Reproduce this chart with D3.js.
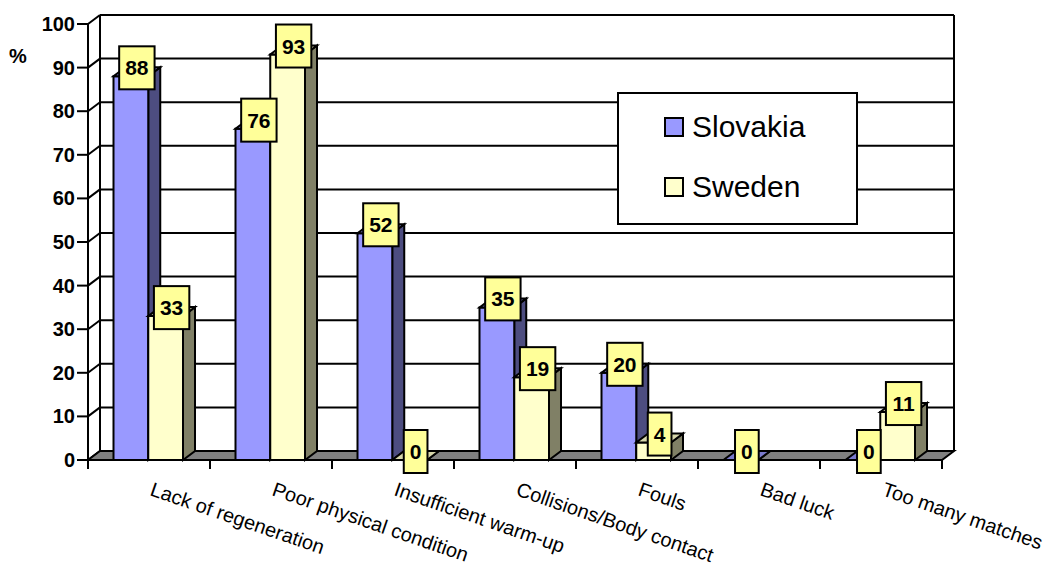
<!DOCTYPE html>
<html>
<head>
<meta charset="utf-8">
<script src="https://cdn.jsdelivr.net/npm/d3@7"></script>
<style>
  html, body { margin: 0; padding: 0; background: #ffffff; }
  svg { display: block; font-family: "Liberation Sans", Arial, sans-serif; }
</style>
</head>
<body>
<svg id="chart" width="1054" height="568"></svg>
<script>
// Injury causes reported by players, per country (%)
const categories = [
  "Lack of regeneration",
  "Poor physical condition",
  "Insufficient warm-up",
  "Collisions/Body contact",
  "Fouls",
  "Bad luck",
  "Too many matches"
];
const seriesNames = ["Slovakia", "Sweden"];
const slovakia = [88, 76, 52, 35, 20, 0, 0];
const sweden   = [33, 93, 0, 19, 4, null, 11];
const yTicks   = [0, 10, 20, 30, 40, 50, 60, 70, 80, 90, 100];

// colours: front, side, top for each series
const palette = {
  Slovakia: { front: "#9999ff", side: "#4d4d80", top: "#7a7acc" },
  Sweden:   { front: "#ffffcc", side: "#808066", top: "#d6d6ab" }
};

const svg = d3.select("#chart");
const DX = 12, DY = -9;          // depth offset of the 3D box
const left = 88, right = 942;    // front edge of the floor

const x0 = d3.scaleBand().domain(categories).range([left, right]);
const x1 = d3.scaleBand().domain(seriesNames).range([25.5, 95]);
const y  = d3.scaleLinear().domain([0, 100]).range([460, 24]);

const line = (pts) => "M" + pts.map(p => p.join(",")).join("L") + "Z";
const stroke = { "stroke": "#000", "stroke-width": 2, "stroke-linejoin": "miter" };
function applyStroke(sel) { Object.entries(stroke).forEach(([k, v]) => sel.attr(k, v)); return sel; }

// back wall gridlines
const walls = svg.append("g");
yTicks.forEach(t => {
  walls.append("line")
    .attr("x1", left + DX).attr("x2", right + DX)
    .attr("y1", y(t) + DY).attr("y2", y(t) + DY)
    .attr("stroke", "#000").attr("stroke-width", 2);
  // side wall diagonal
  walls.append("line")
    .attr("x1", left).attr("y1", y(t))
    .attr("x2", left + DX).attr("y2", y(t) + DY)
    .attr("stroke", "#000").attr("stroke-width", 2);
});
// wall verticals
[[left + DX, y(0) + DY, left + DX, y(100) + DY],
 [right + DX, y(0) + DY, right + DX, y(100) + DY],
 [left, y(0) + 3, left, y(100)]].forEach(([a, b, c, d]) => {
  walls.append("line").attr("x1", a).attr("y1", b).attr("x2", c).attr("y2", d)
    .attr("stroke", "#000").attr("stroke-width", 2);
});

// floor
applyStroke(svg.append("path")
  .attr("d", line([[left, y(0)], [right, y(0)], [right + DX, y(0) + DY], [left + DX, y(0) + DY]]))
  .attr("fill", "#808080"));

// category ticks
const catEdges = categories.map(c => x0(c)).concat([right]);
svg.append("g").selectAll("line").data(catEdges).join("line")
  .attr("x1", d => d).attr("x2", d => d)
  .attr("y1", y(0)).attr("y2", y(0) + 9)
  .attr("stroke", "#000").attr("stroke-width", 2);

// y axis ticks and labels
const yAxis = svg.append("g");
yTicks.forEach(t => {
  yAxis.append("line").attr("x1", 77).attr("x2", left)
    .attr("y1", y(t)).attr("y2", y(t))
    .attr("stroke", "#000").attr("stroke-width", 2);
  yAxis.append("text").attr("x", 75).attr("y", y(t))
    .attr("text-anchor", "end").attr("dominant-baseline", "central")
    .attr("font-size", 20).attr("font-weight", "bold").text(t);
});
svg.append("text").attr("x", 18).attr("y", 56)
  .attr("text-anchor", "middle").attr("dominant-baseline", "central")
  .attr("font-size", 20).attr("font-weight", "bold").text("%");

// bars
const values = { Slovakia: slovakia, Sweden: sweden };
const bars = [];
categories.forEach((c, i) => {
  seriesNames.forEach(s => {
    const v = values[s][i];
    if (v === null || v === undefined) return;
    bars.push({ c, s, v });
  });
});

const barG = svg.append("g");
bars.forEach(b => {
  const xl = x0(b.c) + x1(b.s);
  const xr = xl + x1.bandwidth();
  const yt = y(b.v), yb = y(0);
  const col = palette[b.s];
  // side face
  applyStroke(barG.append("path")
    .attr("d", line([[xr, yb], [xr, yt], [xr + DX, yt + DY], [xr + DX, yb + DY]]))
    .attr("fill", col.side));
  // front face
  if (b.v > 0) {
    applyStroke(barG.append("path")
      .attr("d", line([[xl, yb], [xr, yb], [xr, yt], [xl, yt]]))
      .attr("fill", col.front));
  }
  // top face
  applyStroke(barG.append("path")
    .attr("d", line([[xl, yt], [xr, yt], [xr + DX, yt + DY], [xl + DX, yt + DY]]))
    .attr("fill", col.top));
});

// value labels
const labelG = svg.append("g");
bars.forEach(b => {
  const cx = x0(b.c) + x1(b.s) + x1.bandwidth() / 2 + DX / 2;
  const cy = y(b.v) + DY + 0.5;
  const txt = String(b.v);
  const w = txt.length * 11.7 + 12, h = 43;
  applyStroke(labelG.append("rect")
    .attr("x", cx - w / 2).attr("y", cy - h / 2)
    .attr("width", w).attr("height", h)
    .attr("fill", "#ffff99"));
  labelG.append("text").attr("x", cx).attr("y", cy)
    .attr("text-anchor", "middle").attr("dominant-baseline", "central")
    .attr("font-size", 21).attr("font-weight", "bold").text(txt);
});

// category labels, angled
svg.append("g").selectAll("text").data(categories).join("text")
  .attr("transform", d => `translate(${x0(d) + x0.bandwidth() / 2},495) rotate(19)`)
  .attr("font-size", 20)
  .text(d => d);

// legend
const lg = svg.append("g");
applyStroke(lg.append("rect").attr("x", 618).attr("y", 93)
  .attr("width", 239).attr("height", 131).attr("fill", "#fff"));
seriesNames.forEach((s, i) => {
  const yy = 118 + i * 60;
  applyStroke(lg.append("rect").attr("x", 665).attr("y", yy)
    .attr("width", 18).attr("height", 18).attr("fill", palette[s].front));
  lg.append("text").attr("x", 692).attr("y", yy + 18.5)
    .attr("font-size", 30).text(s);
});
</script>
</body>
</html>
